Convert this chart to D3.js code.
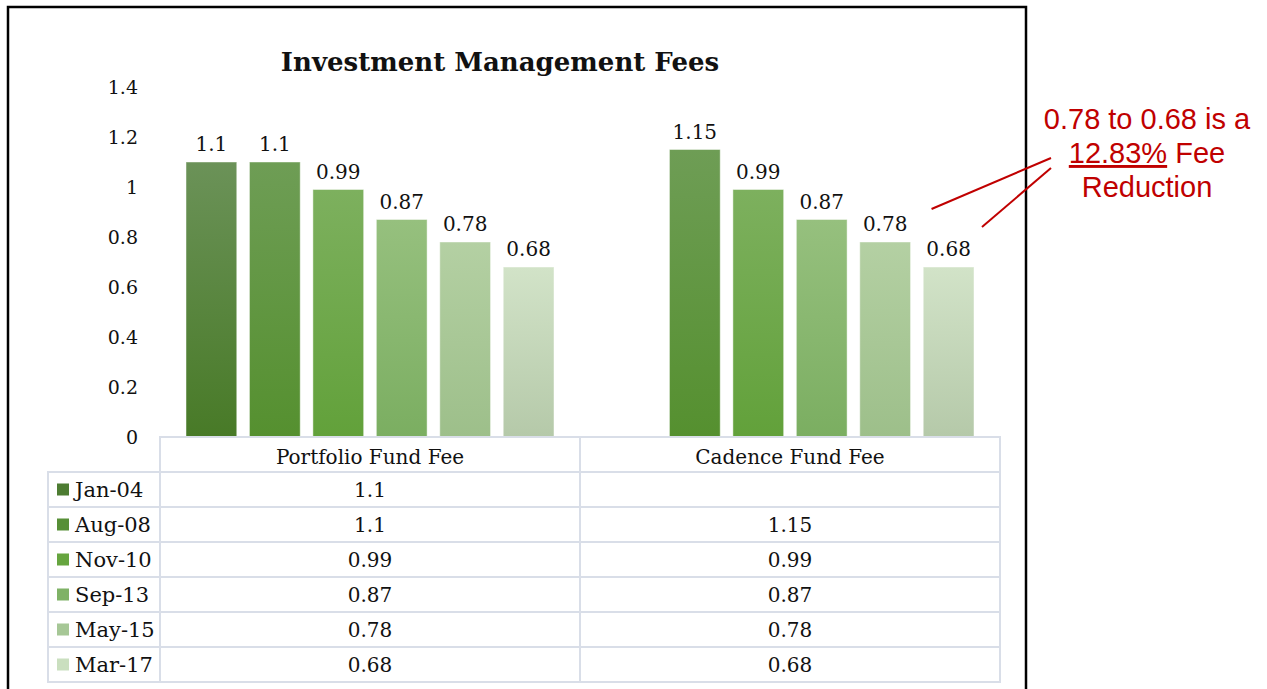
<!DOCTYPE html>
<meta charset="utf-8">
<style>
body { margin: 0; background: #fff; }
.axis text { font: 19px "DejaVu Serif", serif; fill: #111; }
.axis path, .axis line { display: none; }
</style>
<svg width="1267" height="689"></svg>
<script src="https://d3js.org/d3.v7.min.js"></script>
<script>
// values
var categories = ["Portfolio Fund Fee", "Cadence Fund Fee"];
var periods = ["Jan-04", "Aug-08", "Nov-10", "Sep-13", "May-15", "Mar-17"];
var portfolioFees = [1.1, 1.1, 0.99, 0.87, 0.78, 0.68];
var cadenceFees = [null, 1.15, 0.99, 0.87, 0.78, 0.68];
var yTicks = [0, 0.2, 0.4, 0.6, 0.8, 1, 1.2, 1.4];

// bar gradient (top, bottom) and legend swatch colours per period
var topColors = ["#6b9258", "#6e9d55", "#7db05e", "#96c07e", "#b4d0a3", "#d2e3c8"];
var bottomColors = ["#487a27", "#55902f", "#62a13a", "#7bae61", "#9dbf8a", "#b5c9a9"];
var swatchColors = ["#4d7c32", "#578f37", "#66a53f", "#7fb266", "#a6c796", "#cadfbf"];

var fees = {};
fees[categories[0]] = portfolioFees;
fees[categories[1]] = cadenceFees;

var svg = d3.select("svg"),
    margin = {top: 87, left: 160, bottom: 252},
    width = 840,
    height = 689 - margin.top - margin.bottom; // zero line at y=437

// outer frame
svg.append("rect")
    .attr("x", 8).attr("y", 7)
    .attr("width", 1018).attr("height", 700)
    .attr("fill", "none")
    .attr("stroke", "#000")
    .attr("stroke-width", 2.5);

var g = svg.append("g").attr("transform", "translate(" + margin.left + "," + margin.top + ")");

var x0 = d3.scaleBand().domain(categories).range([0, width]);
var x1 = d3.scaleBand().domain(periods).range([0, x0.bandwidth()])
    .paddingInner(0.2).paddingOuter(0.41);
var y = d3.scaleLinear().domain([0, 1.4]).range([height, 0]);

var defs = svg.append("defs");
periods.forEach(function(p, i) {
  var grad = defs.append("linearGradient")
      .attr("id", "grad" + i)
      .attr("x1", 0).attr("y1", 0).attr("x2", 0).attr("y2", 1);
  grad.append("stop").attr("offset", "0%").attr("stop-color", topColors[i]);
  grad.append("stop").attr("offset", "100%").attr("stop-color", bottomColors[i]);
});

svg.append("text")
    .attr("x", 500)
    .attr("y", 71)
    .attr("text-anchor", "middle")
    .attr("font-family", "DejaVu Serif, serif")
    .attr("font-weight", "bold")
    .attr("font-size", 26)
    .attr("fill", "#111")
    .text("Investment Management Fees");

g.append("g")
    .attr("class", "axis")
    .attr("transform", "translate(-22,0)")
    .call(d3.axisLeft(y).tickValues(yTicks).tickSize(0).tickPadding(0).tickFormat(function(d) { return String(d); }));

var groups = g.append("g")
  .selectAll("g")
  .data(categories)
  .enter().append("g")
    .attr("transform", function(d) { return "translate(" + x0(d) + ",0)"; });

var items = groups.selectAll("g")
  .data(function(c) {
    return periods.map(function(p, i) { return {period: p, i: i, value: fees[c][i]}; })
      .filter(function(d) { return d.value != null; });
  })
  .enter().append("g");

items.append("rect")
    .attr("x", function(d) { return x1(d.period); })
    .attr("y", function(d) { return y(d.value); })
    .attr("width", x1.bandwidth())
    .attr("height", function(d) { return height - y(d.value); })
    .attr("fill", function(d) { return "url(#grad" + d.i + ")"; })
    .attr("stroke", "#ffffff")
    .attr("stroke-opacity", 0.45)
    .attr("stroke-width", 1);

items.append("text")
    .attr("x", function(d) { return x1(d.period) + x1.bandwidth() / 2; })
    .attr("y", function(d) { return y(d.value) - 11; })
    .attr("text-anchor", "middle")
    .attr("font-family", "DejaVu Serif, serif")
    .attr("font-size", 20)
    .attr("fill", "#111")
    .text(function(d) { return d.value; });

// data table under the plot
var rowH = 35,
    tableTop = height,
    legendLeft = 48 - margin.left,
    lineColor = "#d9dee8";

var table = g.append("g").attr("class", "table");

// header row
table.selectAll(".hdr")
  .data(categories)
  .enter().append("rect")
    .attr("class", "hdr")
    .attr("x", function(d) { return x0(d); })
    .attr("y", tableTop)
    .attr("width", x0.bandwidth())
    .attr("height", rowH)
    .attr("fill", "#fff")
    .attr("stroke", lineColor)
    .attr("stroke-width", 2);

table.selectAll(".hdrText")
  .data(categories)
  .enter().append("text")
    .attr("x", function(d) { return x0(d) + x0.bandwidth() / 2; })
    .attr("y", tableTop + rowH - 8)
    .attr("text-anchor", "middle")
    .attr("font-family", "DejaVu Serif, serif")
    .attr("font-size", 20)
    .attr("fill", "#111")
    .text(function(d) { return d; });

var rows = table.selectAll(".row")
  .data(periods)
  .enter().append("g")
    .attr("class", "row")
    .attr("transform", function(d, i) { return "translate(0," + (tableTop + rowH * (i + 1)) + ")"; });

rows.append("rect")
    .attr("x", legendLeft)
    .attr("width", -legendLeft)
    .attr("height", rowH)
    .attr("fill", "#fff")
    .attr("stroke", lineColor)
    .attr("stroke-width", 2);

categories.forEach(function(c) {
  rows.append("rect")
      .attr("x", x0(c))
      .attr("width", x0.bandwidth())
      .attr("height", rowH)
      .attr("fill", "#fff")
      .attr("stroke", lineColor)
      .attr("stroke-width", 2);
  rows.append("text")
      .attr("x", x0(c) + x0.bandwidth() / 2)
      .attr("y", rowH - 10)
      .attr("text-anchor", "middle")
      .attr("font-family", "DejaVu Serif, serif")
      .attr("font-size", 20)
      .attr("fill", "#111")
      .text(function(d, i) { return fees[c][i] == null ? "" : fees[c][i]; });
});

rows.append("rect")
    .attr("x", legendLeft + 9)
    .attr("y", rowH / 2 - 6)
    .attr("width", 12)
    .attr("height", 12)
    .attr("fill", function(d, i) { return swatchColors[i]; });

rows.append("text")
    .attr("x", legendLeft + 27)
    .attr("y", rowH - 10)
    .attr("font-family", "DejaVu Serif, serif")
    .attr("font-size", 21)
    .attr("fill", "#111")
    .text(function(d) { return d; });

// annotation
var red = "#c00000";
var note = svg.append("text")
    .attr("text-anchor", "middle")
    .attr("font-family", "Liberation Sans, Arial, sans-serif")
    .attr("font-size", 29)
    .attr("fill", red);
note.append("tspan").attr("x", 1147).attr("y", 129).text("0.78 to 0.68 is a");
note.append("tspan").attr("x", 1147).attr("y", 163)
    .attr("text-decoration", "underline").text("12.83%");
note.append("tspan").text(" Fee");
note.append("tspan").attr("x", 1147).attr("y", 197).text("Reduction");

var cad = categories[1];
var xMay = margin.left + x0(cad) + x1("May-15") + x1.bandwidth();
var xMar = margin.left + x0(cad) + x1("Mar-17") + x1.bandwidth();
svg.append("line")
    .attr("x1", xMay + 21).attr("y1", margin.top + y(0.78) - 33)
    .attr("x2", 1051).attr("y2", 158)
    .attr("stroke", red).attr("stroke-width", 2);
svg.append("line")
    .attr("x1", xMar + 8).attr("y1", margin.top + y(0.68) - 40)
    .attr("x2", 1051).attr("y2", 168)
    .attr("stroke", red).attr("stroke-width", 2);
</script>
